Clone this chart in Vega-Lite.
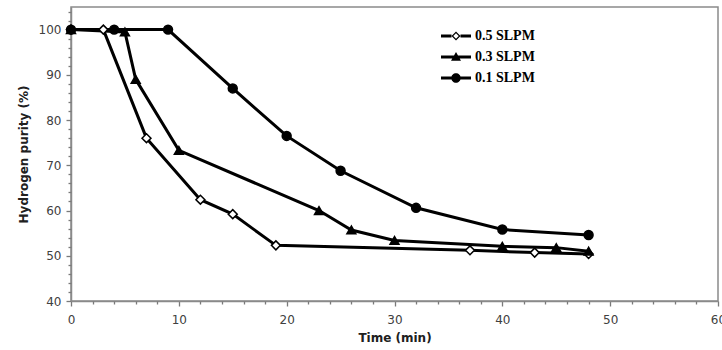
{
  "$schema": "https://vega.github.io/schema/vega-lite/v6.json",
  "width": 647,
  "height": 294,
  "autosize": "none",
  "padding": {"left": 71, "top": 7, "right": 4, "bottom": 49},
  "background": "white",
  "config": {
    "view": {"stroke": "#8a8a8a", "strokeWidth": 1.5},
    "axis": {
      "labelFont": "DejaVu Sans", "labelFontSize": 12, "labelColor": "#404040",
      "titleFont": "DejaVu Sans", "titleFontSize": 12, "titleFontWeight": "bold", "titleColor": "#202020",
      "domainColor": "#8a8a8a", "domainWidth": 1.5, "tickColor": "#7a7a7a", "tickWidth": 1.3, "grid": false
    }
  },
  "data": {
    "values": [
      {"t": 0, "p": 100, "s": "0.5 SLPM"},
      {"t": 3, "p": 100, "s": "0.5 SLPM"},
      {"t": 7, "p": 76, "s": "0.5 SLPM"},
      {"t": 12, "p": 62.4, "s": "0.5 SLPM"},
      {"t": 15, "p": 59.2, "s": "0.5 SLPM"},
      {"t": 19, "p": 52.3, "s": "0.5 SLPM"},
      {"t": 37, "p": 51.2, "s": "0.5 SLPM"},
      {"t": 43, "p": 50.7, "s": "0.5 SLPM"},
      {"t": 48, "p": 50.4, "s": "0.5 SLPM"},
      {"t": 0, "p": 100, "s": "0.3 SLPM"},
      {"t": 5, "p": 99.5, "s": "0.3 SLPM"},
      {"t": 6, "p": 89, "s": "0.3 SLPM"},
      {"t": 10, "p": 73.3, "s": "0.3 SLPM"},
      {"t": 23, "p": 60, "s": "0.3 SLPM"},
      {"t": 26, "p": 55.7, "s": "0.3 SLPM"},
      {"t": 30, "p": 53.4, "s": "0.3 SLPM"},
      {"t": 40, "p": 52.1, "s": "0.3 SLPM"},
      {"t": 45, "p": 51.8, "s": "0.3 SLPM"},
      {"t": 48, "p": 51, "s": "0.3 SLPM"},
      {"t": 0, "p": 100, "s": "0.1 SLPM"},
      {"t": 4, "p": 100, "s": "0.1 SLPM"},
      {"t": 9, "p": 100, "s": "0.1 SLPM"},
      {"t": 15, "p": 87, "s": "0.1 SLPM"},
      {"t": 20, "p": 76.5, "s": "0.1 SLPM"},
      {"t": 25, "p": 68.8, "s": "0.1 SLPM"},
      {"t": 32, "p": 60.6, "s": "0.1 SLPM"},
      {"t": 40, "p": 55.8, "s": "0.1 SLPM"},
      {"t": 48, "p": 54.6, "s": "0.1 SLPM"}
    ]
  },
  "resolve": {"scale": {"shape": "independent"}, "legend": {"shape": "independent"}, "axis": {"x": "independent", "y": "independent"}},
  "layer": [
    {
      "mark": {"type": "line", "color": "black", "strokeWidth": 3},
      "encoding": {
        "x": {"field": "t", "type": "quantitative", "scale": {"domain": [0, 60], "nice": false},
          "axis": {"orient": "bottom", "values": [0, 10, 20, 30, 40, 50, 60],
            "labelFlush": false, "tickSize": 5, "labelPadding": 8, "title": "Time (min)", "titlePadding": 7}},
        "y": {"field": "p", "type": "quantitative", "scale": {"domain": [40, 105], "nice": false, "zero": false},
          "axis": {"orient": "left", "values": [40, 50, 60, 70, 80, 90, 100],
            "labelFlush": false, "tickSize": 5, "labelPadding": 5, "title": "Hydrogen purity (%)", "titlePadding": 8}},
        "detail": {"field": "s", "type": "nominal"}
      }
    },
    {
      "mark": {"type": "point", "stroke": "black", "strokeWidth": 1.5, "opacity": 1, "filled": false, "size": 80},
      "encoding": {
        "x": {"field": "t", "type": "quantitative",
          "axis": {"orient": "bottom",
            "values": [2, 4, 6, 8, 12, 14, 16, 18, 22, 24, 26, 28, 32, 34, 36, 38, 42, 44, 46, 48, 52, 54, 56, 58],
            "tickSize": 3, "labels": false, "domain": false, "title": null}},
        "y": {"field": "p", "type": "quantitative",
          "axis": {"orient": "left",
            "values": [42, 44, 46, 48, 52, 54, 56, 58, 62, 64, 66, 68, 72, 74, 76, 78, 82, 84, 86, 88, 92, 94, 96, 98, 102, 104],
            "tickSize": 3, "labels": false, "domain": false, "title": null}},
        "shape": {"field": "s", "type": "nominal",
          "scale": {"domain": ["0.5 SLPM", "0.3 SLPM", "0.1 SLPM"], "range": ["diamond", "triangle-up", "circle"]},
          "legend": null},
        "fill": {"field": "s", "type": "nominal",
          "scale": {"domain": ["0.5 SLPM", "0.3 SLPM", "0.1 SLPM"], "range": ["white", "black", "black"]},
          "legend": null}
      }
    },
    {
      "transform": [{"filter": "false"}],
      "mark": {"type": "point", "filled": true, "color": "black", "opacity": 1, "strokeWidth": 0},
      "encoding": {
        "x": {"field": "t", "type": "quantitative", "axis": null},
        "y": {"field": "p", "type": "quantitative", "axis": null},
        "shape": {"field": "s", "type": "nominal",
          "scale": {"domain": ["0.5 SLPM", "0.3 SLPM", "0.1 SLPM"],
            "range": [
              "M-3,-0.3H-0.9V0.3H-3Z M0.9,-0.3H3V0.3H0.9Z M0,-0.9L0.9,0L0,0.9L-0.9,0Z M0,-0.55L-0.55,0L0,0.55L0.55,0Z",
              "M-3,-0.3H3V0.3H-3Z M0,-1L1,0.75L-1,0.75Z",
              "M-3,-0.3H3V0.3H-3Z M-0.95,0A0.95,0.95 0 1,1 0.95,0A0.95,0.95 0 1,1 -0.95,0Z"
            ]},
          "legend": {
            "title": null, "orient": "none", "legendX": 378, "legendY": 22, "padding": 0,
            "labelFont": "Liberation Serif", "labelFontSize": 14, "labelFontWeight": "bold", "labelColor": "black",
            "symbolSize": 100, "labelOffset": 12, "rowPadding": 7, "symbolOffset": 0,
            "symbolFillColor": "black", "symbolStrokeWidth": 0, "symbolOpacity": 1
          }
        }
      }
    }
  ]
}
